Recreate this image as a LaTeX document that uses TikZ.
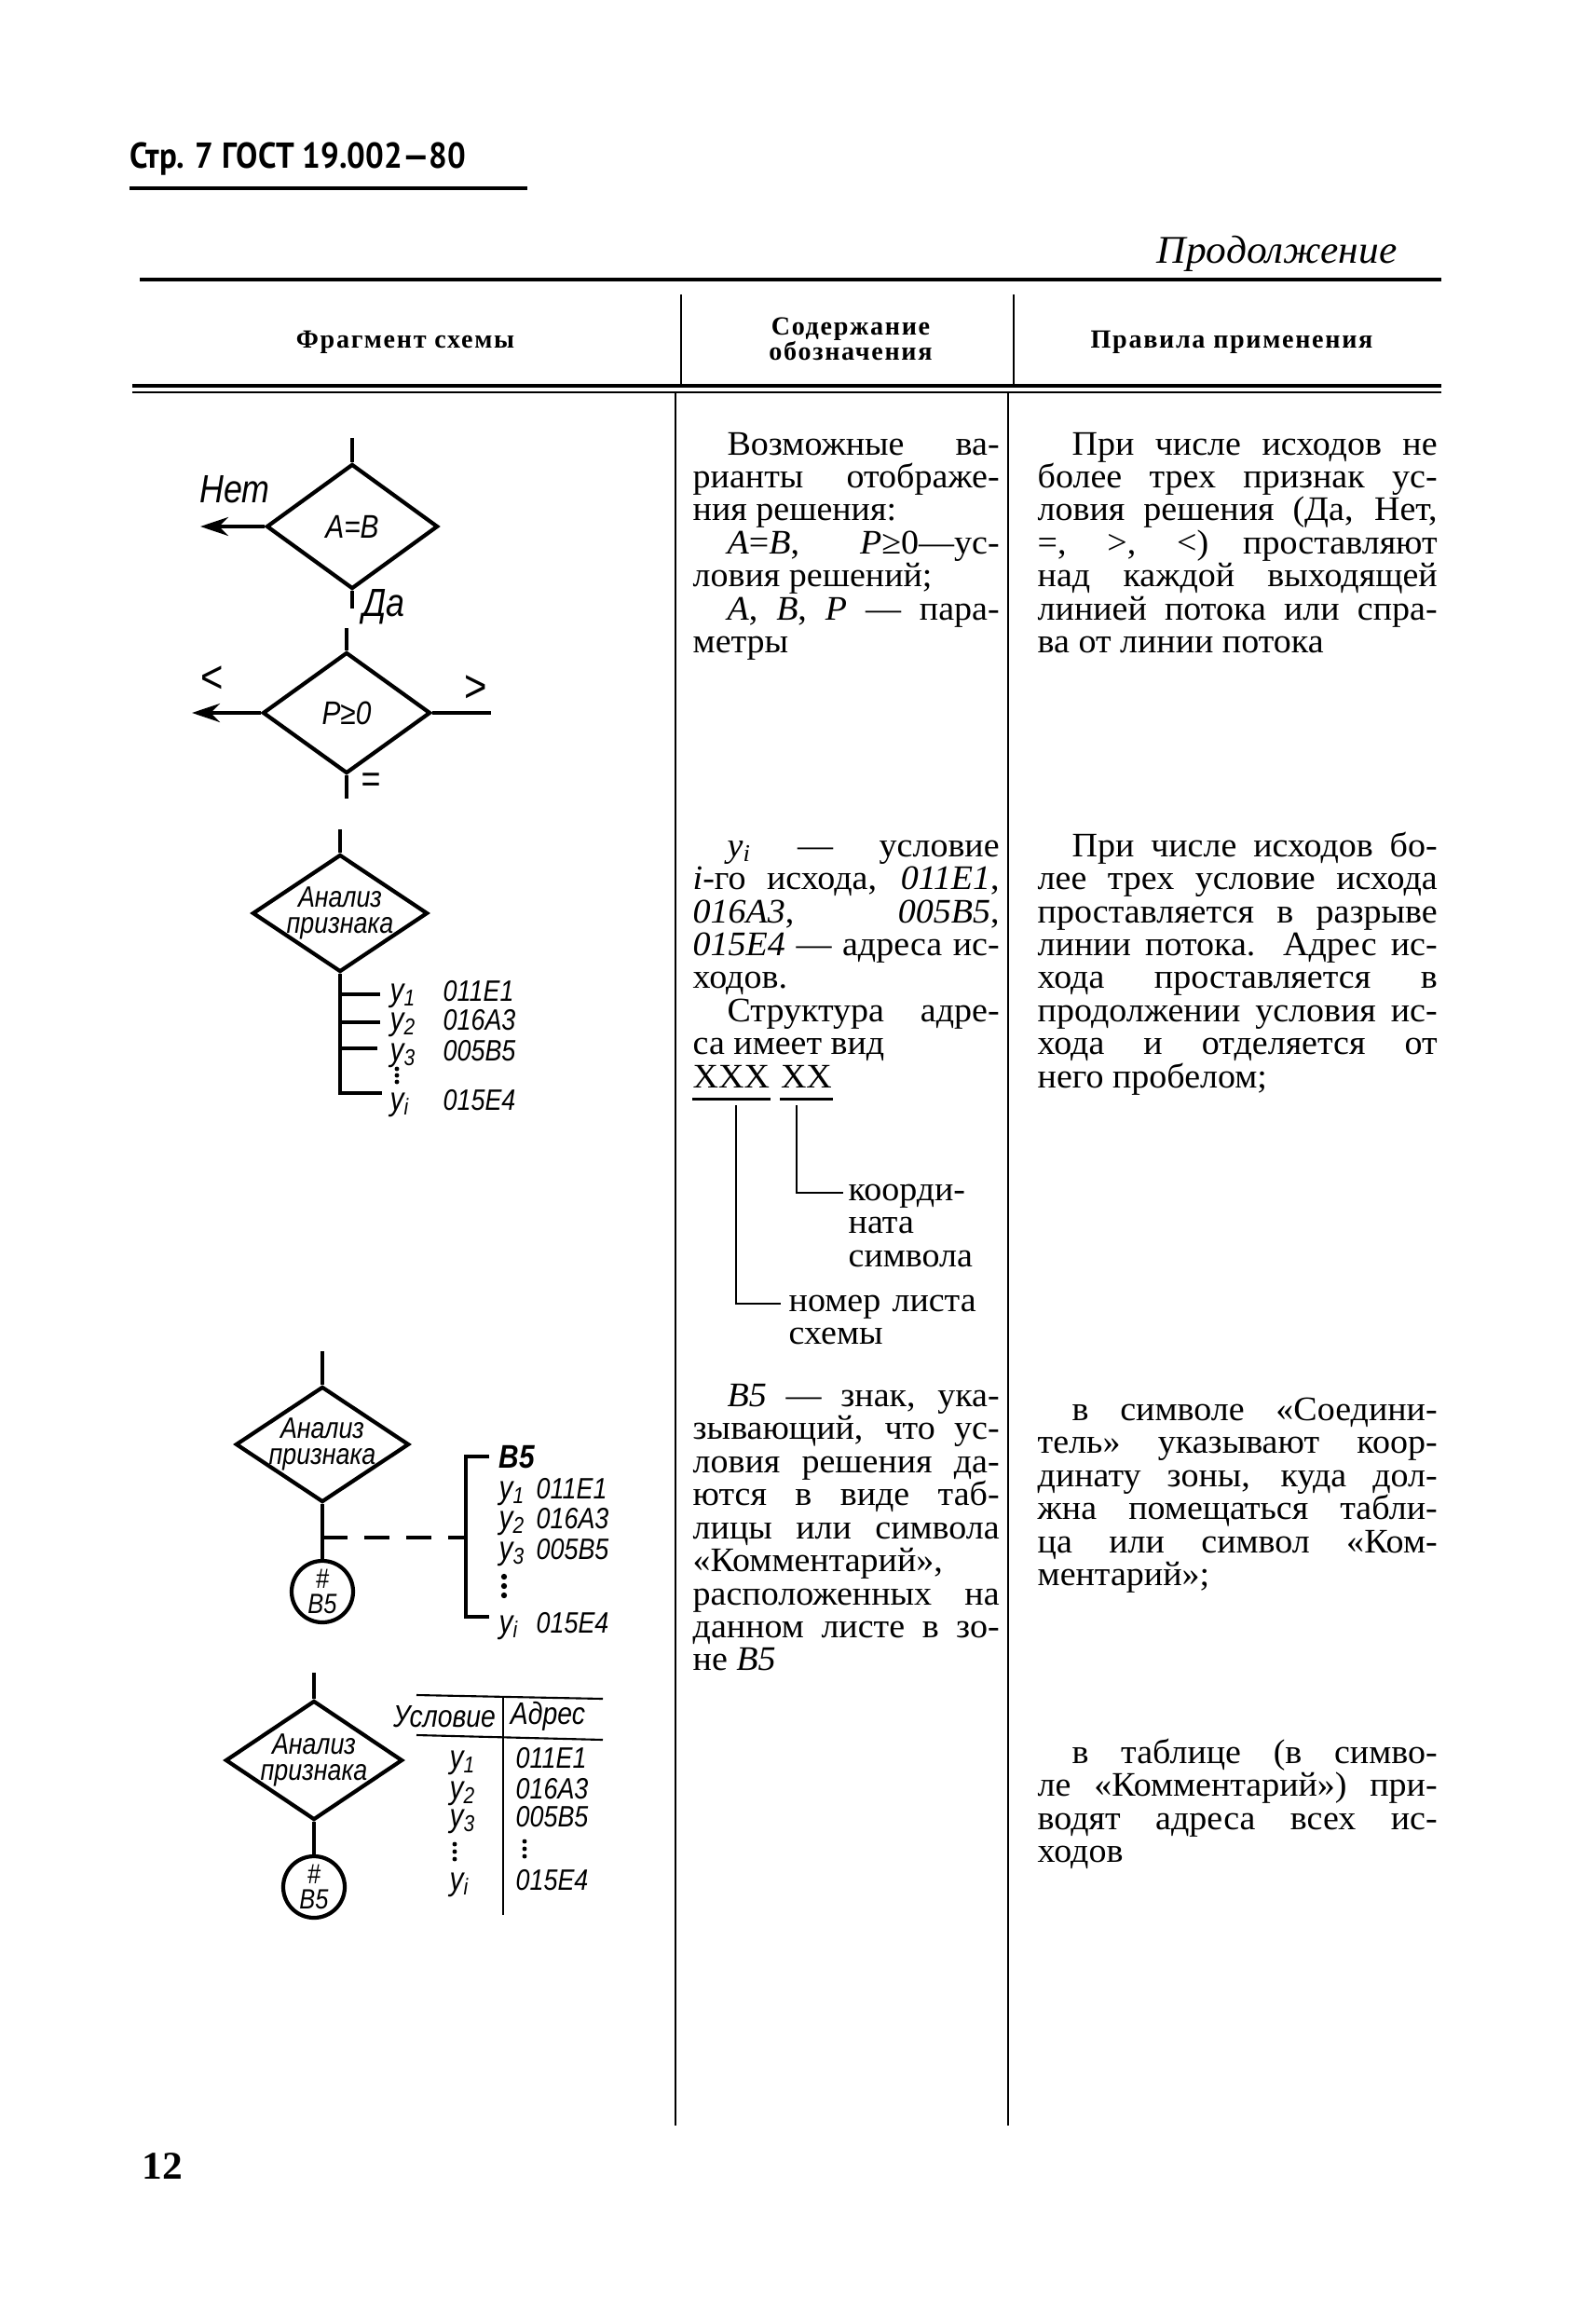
\documentclass[tikz,border=0pt]{standalone}
\usepackage{fontspec}
\setmainfont{Liberation Serif}[FakeStretch=1.03]
\newfontfamily\gostfont{Liberation Sans}[FakeStretch=0.85]
\newfontfamily\headfont{PT Sans}[FakeStretch=0.9]
\newfontfamily\capfont{Liberation Serif}[LetterSpace=6]
\usetikzlibrary{shapes.geometric,arrows.meta}

\tolerance=10000
\hbadness=10000
\hyphenpenalty=10000

\tikzset{
  flow/.style={line width=1.2pt},
  rule/.style={line width=1.4pt},
  hair/.style={line width=0.6pt},
  decision/.style={diamond, draw, line width=1.2pt, inner sep=0pt,
    minimum width=1.88cm, minimum height=1.26cm},
  connector/.style={circle, draw, line width=1.2pt, inner sep=0pt,
    minimum size=0.66cm, align=center,
    font=\gostfont\itshape\fontsize{8.5}{7.5}\selectfont},
  inscr/.style={inner sep=0pt, align=center,
    font=\gostfont\itshape\fontsize{9}{8}\selectfont},
  lbl/.style={inner sep=0pt, font=\gostfont\itshape\fontsize{12}{12}\selectfont},
  cond/.style={inner sep=0pt, anchor=base west,
    font=\gostfont\itshape\fontsize{10}{10}\selectfont},
  addr/.style={inner sep=0pt, anchor=base west,
    font=\gostfont\itshape\fontsize{9}{9}\selectfont},
  body/.style={inner sep=0pt, anchor=base west, align=justify,
    font=\fontsize{10.5}{10.1}\selectfont},
  head/.style={inner sep=0pt, align=center,
    font=\capfont\bfseries\fontsize{8}{7.6}\selectfont},
}

\begin{document}
\begin{tikzpicture}[x=1cm, y=-1cm]
    \useasboundingbox (0,0) rectangle (17.13,24.80);

    % page head
    \node[inner sep=0pt, anchor=west, font=\headfont\bfseries\fontsize{11}{11}\selectfont]
        (gost) at (1.39,1.71) {Стр. 7 ГОСТ 19.002—80};
    \draw[rule] (1.39,2.02) -- (5.66,2.02);
    \node[inner sep=0pt, anchor=east, font=\itshape\fontsize{12}{12}\selectfont]
        (cont) at (15.00,2.72) {Продолжение};

    % table frame
    \draw[rule] (1.50,3.00) -- (15.47,3.00);
    \draw[hair] (7.31,3.16) -- (7.31,4.14);
    \draw[hair] (10.88,3.16) -- (10.88,4.14);
    \draw[rule] (1.42,4.14) -- (15.47,4.14);
    \draw[hair] (1.42,4.21) -- (15.47,4.21);
    \draw[hair] (7.25,4.21) -- (7.25,22.81);
    \draw[hair] (10.82,4.21) -- (10.82,22.81);

    \node[head] (h1) at (4.35,3.67) {Фрагмент схемы};
    \node[head] (h2) at (9.13,3.64) {Содержание\\обозначения};
    \node[head] (h3) at (13.22,3.67) {Правила применения};

    % decision A=B
    \node[decision, minimum width=1.84cm, minimum height=1.34cm] (d1) at (3.78,5.65) {};
    \node[inscr, font=\gostfont\itshape\fontsize{10}{10}\selectfont] (ab) at (d1) {A=B};
    \coordinate (d1in) at (3.78,4.70);
    \coordinate (d1out) at (3.78,6.53);
    \coordinate (d1no) at (2.15,5.65);
    \draw[flow] (d1in) -- (d1.north);
    \draw[flow] (d1.south) -- (d1out);
    \draw[flow, -{Stealth[length=3mm, width=2mm, inset=1mm]}] (d1.west) -- (d1no);
    \node[lbl] (net) at (2.52,5.25) {Нет};
    \node[lbl] (da) at (4.12,6.51) {Да};

    % decision P>=0
    \node[decision, minimum width=1.80cm, minimum height=1.30cm] (d2) at (3.72,7.65) {};
    \node[inscr, font=\gostfont\itshape\fontsize{10}{10}\selectfont] (pz) at (d2) {P≥0};
    \coordinate (d2in) at (3.72,6.74);
    \coordinate (d2out) at (3.72,8.57);
    \coordinate (d2lt) at (2.06,7.65);
    \coordinate (d2gt) at (5.27,7.65);
    \draw[flow] (d2in) -- (d2.north);
    \draw[flow] (d2.south) -- (d2out);
    \draw[flow, -{Stealth[length=3mm, width=2mm, inset=1mm]}] (d2.west) -- (d2lt);
    \draw[flow] (d2.east) -- (d2gt);
    \node[lbl, font=\gostfont\fontsize{14}{14}\selectfont] (lt) at (2.28,7.29) {<};
    \node[lbl, font=\gostfont\fontsize{14}{14}\selectfont] (gt) at (5.11,7.39) {>};
    \node[lbl] (eq) at (3.98,8.40) {=};

    % decision with outcomes on the flow line
    \node[decision] (d3) at (3.65,9.80) {};
    \node[inscr] (an3) at (d3) {Анализ\\признака};
    \coordinate (d3in) at (3.65,8.90);
    \coordinate (d3end) at (4.10,11.73);
    \coordinate (b31) at (4.08,10.67);
    \coordinate (b32) at (4.08,10.97);
    \coordinate (b33) at (4.05,11.25);
    \draw[flow] (d3in) -- (d3.north);
    \draw[flow] (d3.south) |- (d3end);
    \draw[flow] (d3.south |- b31) -- (b31);
    \draw[flow] (d3.south |- b32) -- (b32);
    \draw[flow] (d3.south |- b33) -- (b33);
    \node[cond] (u31) at (4.18,10.74) {у\textsubscript{1}};
    \node[cond] (u32) at (4.18,11.05) {у\textsubscript{2}};
    \node[cond] (u33) at (4.18,11.38) {у\textsubscript{3}};
    \node[cond] (u3i) at (4.18,11.91) {у\textsubscript{i}};
    \fill (4.26,11.47) circle (0.7pt) (4.26,11.54) circle (0.7pt) (4.26,11.61) circle (0.7pt);
    \node[addr] (a31) at (4.75,10.74) {011E1};
    \node[addr] (a32) at (4.75,11.05) {016A3};
    \node[addr] (a33) at (4.75,11.38) {005B5};
    \node[addr] (a3i) at (4.75,11.91) {015E4};

    % decision with connector B5
    \node[decision, minimum width=1.86cm, minimum height=1.24cm] (d4) at (3.46,15.50) {};
    \node[inscr] (an4) at (d4) {Анализ\\признака};
    \node[connector] (c4) at (3.46,17.08) {\#\\B5};
    \coordinate (d4in) at (3.46,14.50);
    \coordinate (d4br) at (3.46,16.50);
    \coordinate (d4bk) at (5.00,16.50);
    \draw[flow] (d4in) -- (d4.north);
    \draw[flow] (d4.south) -- (c4.north);
    \draw[flow, dash pattern=on 2.7mm off 1.8mm] (d4br) -- (d4bk);
    \draw[flow] (5.25,15.63) -- (5.00,15.63) -- (5.00,17.35) -- (5.25,17.35);
    \node[cond, font=\gostfont\itshape\bfseries\fontsize{10}{10}\selectfont]
        (z4) at (5.35,15.75) {B5};
    \node[cond] (u41) at (5.35,16.08) {у\textsubscript{1}};
    \node[cond] (u42) at (5.35,16.40) {у\textsubscript{2}};
    \node[cond] (u43) at (5.35,16.73) {у\textsubscript{3}};
    \node[cond] (u4i) at (5.35,17.52) {у\textsubscript{i}};
    \fill (5.41,16.92) circle (0.9pt) (5.41,17.02) circle (0.9pt) (5.41,17.12) circle (0.9pt);
    \node[addr] (a41) at (5.75,16.08) {011E1};
    \node[addr] (a42) at (5.75,16.40) {016A3};
    \node[addr] (a43) at (5.75,16.73) {005B5};
    \node[addr] (a4i) at (5.75,17.52) {015E4};

    % decision with table of outcomes
    \node[decision, minimum width=1.90cm, minimum height=1.28cm] (d5) at (3.37,18.89) {};
    \node[inscr] (an5) at (d5) {Анализ\\признака};
    \node[connector] (c5) at (3.37,20.25) {\#\\B5};
    \coordinate (d5in) at (3.37,17.95);
    \draw[flow] (d5in) -- (d5.north);
    \draw[flow] (d5.south) -- (c5.north);
    \draw[hair] (4.47,18.19) -- (6.47,18.23);
    \draw[hair] (4.47,18.62) -- (6.47,18.67);
    \draw[hair] (5.40,18.21) -- (5.40,20.55);
    \node[inscr, font=\gostfont\itshape\fontsize{9.5}{9.5}\selectfont] (t1) at (4.77,18.42) {Условие};
    \node[inscr, font=\gostfont\itshape\fontsize{9.5}{9.5}\selectfont] (t2) at (5.88,18.42) {Адрес};
    \node[cond] (u51) at (4.82,18.97) {у\textsubscript{1}};
    \node[cond] (u52) at (4.82,19.30) {у\textsubscript{2}};
    \node[cond] (u53) at (4.82,19.60) {у\textsubscript{3}};
    \node[cond] (u5i) at (4.82,20.28) {у\textsubscript{i}};
    \fill (4.88,19.79) circle (0.7pt) (4.88,19.87) circle (0.7pt) (4.88,19.95) circle (0.7pt);
    \fill (5.63,19.76) circle (0.7pt) (5.63,19.84) circle (0.7pt) (5.63,19.92) circle (0.7pt);
    \node[addr] (a51) at (5.53,18.97) {011E1};
    \node[addr] (a52) at (5.53,19.30) {016A3};
    \node[addr] (a53) at (5.53,19.60) {005B5};
    \node[addr] (a5i) at (5.53,20.28) {015E4};

    % column 2
    \node[body, text width=3.29cm] (s1) at (7.43,4.88) {\hspace*{1em}Возможные ва-\linebreak
        рианты отображе-\linebreak ния решения:\\
        \hspace*{1em}\textit{A}=\textit{B}, \textit{P}≥0—ус-\linebreak ловия решений;\\
        \hspace*{1em}\textit{A}, \textit{B}, \textit{P} — пара-\linebreak метры};
    \node[body, text width=3.29cm] (s2) at (7.43,9.19) {\hspace*{1em}\textit{у}\textsubscript{\textit{i}} — условие\linebreak
        \textit{i}-го исхода, \textit{011E1},\linebreak
        \textit{016A3}, \textit{005B5},\linebreak
        \textit{015E4} — адреса ис-\linebreak ходов.\\
        \hspace*{1em}Структура адре-\linebreak са имеет вид};
    \node[body] (xxx) at (7.43,11.67) {XXX};
    \node[body] (xx) at ([xshift=3pt]xxx.base east) {XX};
    \draw[hair, line width=1pt] ([yshift=-3.5pt]xxx.base west) -- ([yshift=-3.5pt]xxx.base east);
    \draw[hair, line width=1pt] ([yshift=-3.5pt]xx.base west) -- ([yshift=-3.5pt]xx.base east);
    \node[body, text width=1.8cm, align=left] (coord) at (9.10,12.88) {коорди-\\ната\\символа};
    \node[body, text width=2.3cm, align=left] (sheet) at (8.46,14.07) {номер листа\\схемы};
    \draw[hair] (8.55,11.86) |- (9.05,12.80);
    \draw[hair] (7.90,11.86) |- (8.38,13.99);
    \node[body, text width=3.29cm] (s3) at (7.43,15.09) {\hspace*{1em}\textit{B5} — знак, ука-\linebreak
        зывающий, что ус-\linebreak ловия решения да-\linebreak
        ются в виде таб-\linebreak лицы или символа\linebreak
        «Комментарий»,\\ расположенных на\linebreak
        данном листе в зо-\linebreak не \textit{B5}};

    % column 3
    \node[body, text width=4.29cm] (r1) at (11.13,4.88) {\hspace*{1em}При числе исходов не\linebreak
        более трех признак ус-\linebreak ловия решения (Да, Нет,\linebreak
        =, >, <) проставляют\linebreak над каждой выходящей\linebreak
        линией потока или спра-\linebreak ва от линии потока};
    \node[body, text width=4.29cm] (r2) at (11.13,9.19) {\hspace*{1em}При числе исходов бо-\linebreak
        лее трех условие исхода\linebreak проставляется в разрыве\linebreak
        линии потока. Адрес ис-\linebreak хода проставляется в\linebreak
        продолжении условия ис-\linebreak хода и отделяется от\linebreak
        него пробелом;};
    \node[body, text width=4.29cm] (r3) at (11.13,15.24) {\hspace*{1em}в символе «Соедини-\linebreak
        тель» указывают коор-\linebreak динату зоны, куда дол-\linebreak
        жна помещаться табли-\linebreak ца или символ «Ком-\linebreak
        ментарий»;};
    \node[body, text width=4.29cm] (r4) at (11.13,18.92) {\hspace*{1em}в таблице (в симво-\linebreak
        ле «Комментарий») при-\linebreak водят адреса всех ис-\linebreak
        ходов};

    \node[inner sep=0pt, font=\bfseries\fontsize{12}{12}\selectfont] (pg) at (1.74,23.25) {12};
\end{tikzpicture}
\end{document}
